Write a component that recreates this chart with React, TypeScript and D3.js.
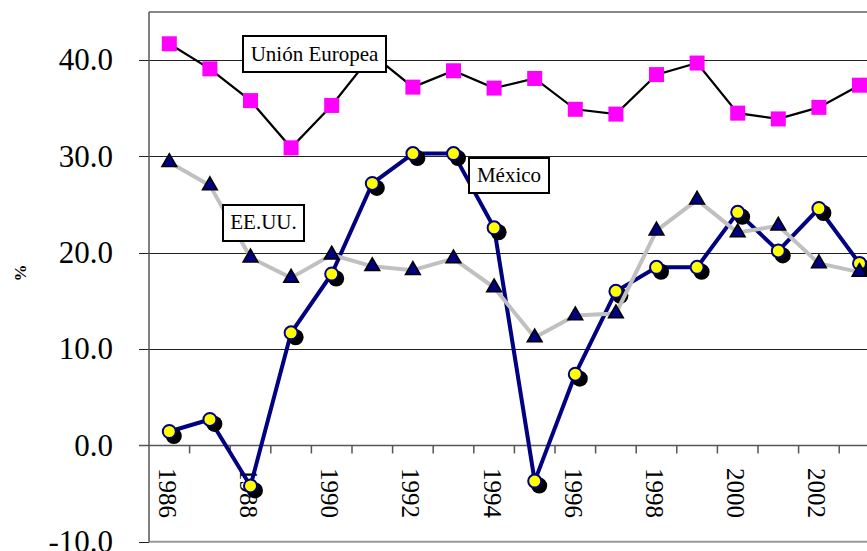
import React from "react";
import * as d3 from "d3";

// Years on the category axis
const years = [1986, 1987, 1988, 1989, 1990, 1991, 1992, 1993, 1994, 1995, 1996, 1997, 1998, 1999, 2000, 2001, 2002, 2003];
const yearLabels = [1986, 1988, 1990, 1992, 1994, 1996, 1998, 2000, 2002];
const yTicks = [-10, 0, 10, 20, 30, 40];

// Shares (%) by partner
const euValues = [41.7, 39.1, 35.8, 30.9, 35.3, 40.6, 37.2, 38.9, 37.1, 38.1, 34.9, 34.4, 38.5, 39.7, 34.5, 33.9, 35.1, 37.4];
const usValues = [29.4, 27.0, 19.5, 17.4, 19.8, 18.6, 18.2, 19.4, 16.4, 11.2, 13.5, 13.7, 22.3, 25.5, 22.1, 22.8, 18.9, 18.0];
const mxValues = [1.45, 2.7, -4.2, 11.7, 17.8, 27.2, 30.3, 30.3, 22.6, -3.7, 7.4, 16.0, 18.5, 18.5, 24.2, 20.2, 24.6, 18.9];

const W = 867;
const H = 551;
const left = 149;
const top = 12;
const bottom = 541.8;

export default function App() {
  const x = d3
    .scaleBand<number>()
    .domain(years)
    .range([left, left + years.length * 40.6]);
  const cx = (yr: number) => (x(yr) as number) + x.bandwidth() / 2;
  const y = d3.scaleLinear().domain([-10, 45]).range([bottom, top]);

  const line = d3
    .line<number>()
    .x((_, i) => cx(years[i]))
    .y((v) => y(v));

  const serif = "'Liberation Serif', 'Times New Roman', serif";
  const fmt = (v: number) => d3.format(".1f")(v).replace("\u2212", "-");
  const tri = d3.symbol(d3.symbolTriangle, 95)();

  return (
    <svg
      width={W}
      height={H}
      style={{ position: "absolute", left: 0, top: 0, display: "block", background: "#fff" }}
      fontFamily={serif}
    >
      {/* plot frame */}
      <line x1={left} x2={W} y1={top} y2={top} stroke="#888" strokeWidth={2} />
      <line x1={left} x2={W} y1={bottom} y2={bottom} stroke="#999" strokeWidth={2} />

      {/* gridlines and value ticks */}
      {yTicks.map((t) => (
        <g key={t}>
          <line
            x1={left - 10}
            x2={t >= 0 ? W : left}
            y1={Math.round(y(t)) + 0.5}
            y2={Math.round(y(t)) + 0.5}
            stroke={t === 0 ? "#555" : "#222"}
            strokeWidth={t === 0 ? 1.5 : 1}
          />
          <text
            x={113}
            y={y(t)}
            dy="0.33em"
            textAnchor="end"
            fontSize={31}
            fill="#000"
          >
            {fmt(t)}
          </text>
        </g>
      ))}
      <line x1={left} x2={left} y1={top} y2={bottom} stroke="#555" strokeWidth={1.5} />

      {/* category ticks along the zero line */}
      {years.map((yr) => (
        <line
          key={yr}
          x1={(x(yr) as number) + x.bandwidth()}
          x2={(x(yr) as number) + x.bandwidth()}
          y1={y(0)}
          y2={y(0) + 8}
          stroke="#555"
          strokeWidth={1.5}
        />
      ))}
      {yearLabels.map((yr) => (
        <text
          key={yr}
          transform={`translate(${cx(yr) - 2},468) rotate(90)`}
          dy="0.34em"
          fontSize={25}
          fill="#000"
        >
          {yr}
        </text>
      ))}

      <text
        transform={`translate(26,273) rotate(-90)`}
        textAnchor="middle"
        fontSize={17}
        fontWeight="bold"
      >
        %
      </text>

      {/* Unión Europea */}
      <path d={line(euValues) || ""} fill="none" stroke="#000" strokeWidth={2.2} />
      {euValues.map((v, i) => (
        <rect
          key={i}
          x={cx(years[i]) - 7.5}
          y={y(v) - 7.5}
          width={15}
          height={15}
          fill="#FF00FF"
        />
      ))}

      {/* México */}
      <path d={line(mxValues) || ""} fill="none" stroke="#000080" strokeWidth={4} strokeLinejoin="round" />
      {mxValues.map((v, i) => (
        <circle key={"s" + i} cx={cx(years[i]) + 4.5} cy={y(v) + 4.5} r={8} fill="#000" />
      ))}
      {mxValues.map((v, i) => (
        <circle
          key={"c" + i}
          cx={cx(years[i])}
          cy={y(v)}
          r={6.5}
          fill="#FFFF00"
          stroke="#000080"
          strokeWidth={2}
        />
      ))}

      {/* EE.UU. */}
      <path d={line(usValues) || ""} fill="none" stroke="#C0C0C0" strokeWidth={4} strokeLinejoin="round" />
      {usValues.map((v, i) => (
        <path
          key={i}
          d={tri || ""}
          transform={`translate(${cx(years[i])},${y(v)})`}
          fill="#000080"
          stroke="#000"
          strokeWidth={1.5}
        />
      ))}

      {/* series labels */}
      <g>
        <rect x={243} y={36} width={143} height={36} fill="#fff" stroke="#000" strokeWidth={2} />
        <text x={314.5} y={61} textAnchor="middle" fontSize={21}>
          Unión Europea
        </text>
      </g>
      <g>
        <rect x={469} y={158} width={80} height={35} fill="#fff" stroke="#000" strokeWidth={2} />
        <text x={509} y={182} textAnchor="middle" fontSize={21}>
          México
        </text>
      </g>
      <g>
        <rect x={223} y={205} width={81} height={36} fill="#fff" stroke="#000" strokeWidth={2} />
        <text x={263.5} y={229} textAnchor="middle" fontSize={21}>
          EE.UU.
        </text>
      </g>
    </svg>
  );
}
